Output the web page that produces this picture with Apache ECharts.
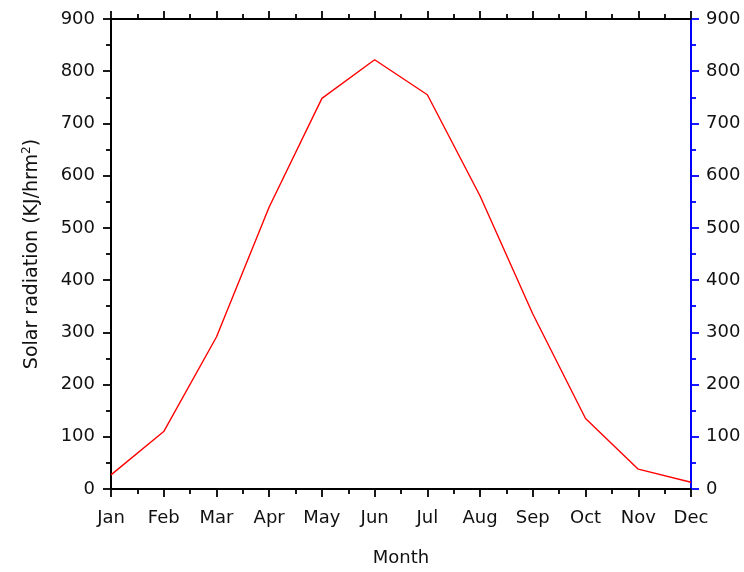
<!DOCTYPE html>
<html>
<head>
<meta charset="utf-8">
<script src="https://cdn.jsdelivr.net/npm/echarts@6/dist/echarts.min.js"></script>
<style>
  html, body { margin: 0; padding: 0; background: #fff; }
  #chart { width: 744px; height: 572px; }
</style>
</head>
<body>
<div id="chart"></div>
<script>
// Monthly mean solar radiation
const months = ['Jan', 'Feb', 'Mar', 'Apr', 'May', 'Jun', 'Jul', 'Aug', 'Sep', 'Oct', 'Nov', 'Dec'];
const radiation = [27, 110, 291, 540, 748, 822, 755, 561, 335, 135, 38, 13];
const yTicks = [0, 100, 200, 300, 400, 500, 600, 700, 800, 900];

const FONT = 'DejaVu Sans';
const points = months.map((m, i) => [i, radiation[i]]);

const chart = echarts.init(document.getElementById('chart'), null, { renderer: 'canvas' });

const xCommon = {
  type: 'value',
  min: 0,
  max: months.length - 1,
  interval: 1,
  splitLine: { show: false },
  axisLine: { show: true, onZero: false, lineStyle: { color: '#000', width: 2 } },
  axisTick: { show: true, length: 8, lineStyle: { color: '#000', width: 1.8 } },
  minorTick: { show: true, splitNumber: 2, length: 5, lineStyle: { color: '#000', width: 1.8 } }
};

const yCommon = {
  type: 'value',
  min: yTicks[0],
  max: yTicks[yTicks.length - 1],
  interval: 100,
  splitLine: { show: false }
};

chart.setOption({
  animation: false,
  backgroundColor: '#fff',
  grid: { left: 111, right: 53, top: 19, bottom: 80, containLabel: false },
  xAxis: [
    Object.assign({}, xCommon, {
      position: 'bottom',
      name: 'Month',
      nameLocation: 'middle',
      nameGap: 60,
      nameTextStyle: { fontFamily: FONT, fontSize: 18, color: '#111' },
      axisLabel: {
        margin: 20,
        fontFamily: FONT,
        fontSize: 18,
        color: '#111',
        formatter: v => months[v] || ''
      }
    }),
    Object.assign({}, xCommon, {
      position: 'top',
      axisLabel: { show: false }
    })
  ],
  yAxis: [
    Object.assign({}, yCommon, {
      position: 'left',
      name: 'Solar radiation (KJ/hrm{sup|2})',
      nameLocation: 'middle',
      nameGap: 68,
      nameRotate: 90,
      nameTextStyle: {
        fontFamily: FONT, fontSize: 19, color: '#111',
        rich: { sup: { fontFamily: FONT, fontSize: 12, color: '#111', verticalAlign: 'top', padding: [0, 0, 10, 0] } }
      },
      axisLine: { show: true, onZero: false, lineStyle: { color: '#000', width: 2 } },
      axisTick: { show: true, length: 8, lineStyle: { color: '#000', width: 1.8 } },
      minorTick: { show: true, splitNumber: 2, length: 5, lineStyle: { color: '#000', width: 1.8 } },
      axisLabel: { margin: 16, fontFamily: FONT, fontSize: 18, color: '#111' }
    }),
    Object.assign({}, yCommon, {
      position: 'right',
      axisLine: { show: true, onZero: false, lineStyle: { color: '#0000ff', width: 2 } },
      axisTick: { show: true, length: 8, lineStyle: { color: '#0000ff', width: 1.8 } },
      minorTick: { show: true, splitNumber: 2, length: 5, lineStyle: { color: '#0000ff', width: 1.8 } },
      axisLabel: { margin: 15, fontFamily: FONT, fontSize: 18, color: '#111' }
    })
  ],
  series: [{
    type: 'line',
    data: points,
    xAxisIndex: 0,
    yAxisIndex: 0,
    showSymbol: false,
    symbol: 'none',
    lineStyle: { color: '#ff0000', width: 1.4 },
    itemStyle: { color: '#ff0000' }
  }]
});
</script>
</body>
</html>
